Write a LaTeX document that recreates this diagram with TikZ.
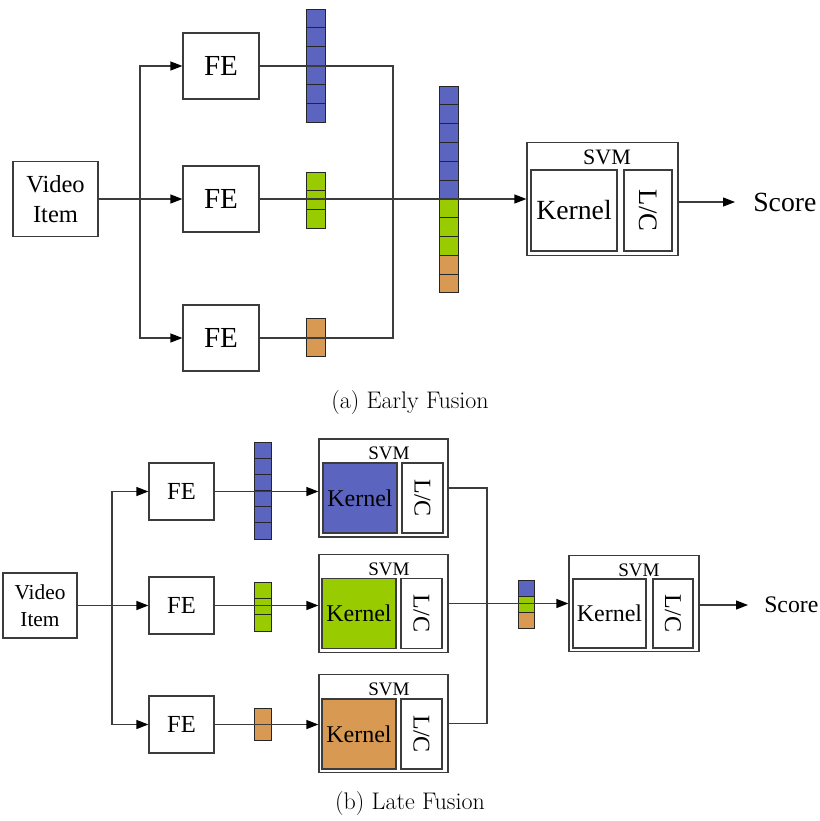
\documentclass[tikz,border=0pt]{standalone}
\usepackage{fontspec}
\newfontfamily\tnr{Liberation Serif}
\usetikzlibrary{arrows.meta}
\usepackage{xcolor}
\definecolor{featblue}{RGB}{91,100,191}
\definecolor{featgreen}{RGB}{153,204,0}
\definecolor{featorange}{RGB}{216,154,82}
\definecolor{linegray}{RGB}{60,60,60}

\begin{document}
\begin{tikzpicture}
[
    x=0.75pt,y=-0.75pt,
    line/.style={draw=linegray,line width=0.9pt},
    arr/.style={line,-{Triangle[length=9pt,width=6.75pt,color=black]}},
    mybox/.style={rectangle,line,fill=white,inner sep=0pt,align=center},
    size/.style 2 args={minimum width=#1*0.75pt,minimum height=#2*0.75pt},
    cell/.style={draw=black!85,line width=0.6pt},
    item/.style={mybox,font=\tnr\fontsize{18.4}{23}\selectfont},
    fe/.style={mybox,size={76}{66},font=\tnr\fontsize{21.8}{24}\selectfont},
    svm/.style={mybox,size={151}{113}},
    svmlabel/.style={inner sep=0pt,font=\tnr\fontsize{16.5}{18}\selectfont},
    kernel/.style={mybox,size={86}{81},font=\tnr\fontsize{20.8}{24}\selectfont},
    lc/.style={mybox,rotate=-90,size={81}{48},font=\tnr\fontsize{20}{24}\selectfont},
    score/.style={inner sep=0pt,anchor=west,font=\tnr\fontsize{20.8}{24}\selectfont},
    itemsmall/.style={mybox,size={74}{65},font=\tnr\fontsize{16}{20}\selectfont},
    fesmall/.style={mybox,size={65}{57},font=\tnr\fontsize{18.4}{22}\selectfont},
    svmsmall/.style={mybox,size={129}{98}},
    svmlabelsmall/.style={inner sep=0pt,font=\tnr\fontsize{14.3}{16}\selectfont},
    kernelsmall/.style={mybox,size={74}{70},font=\tnr\fontsize{18}{22}\selectfont},
    lcsmall/.style={mybox,rotate=-90,size={70}{41},font=\tnr\fontsize{18}{22}\selectfont},
    scoresmall/.style={inner sep=0pt,anchor=west,font=\tnr\fontsize{17.8}{22}\selectfont},
    caption/.style={inner sep=0pt,font=\fontsize{18}{22}\selectfont}
]
\useasboundingbox (0,0) rectangle (820,821);

% (a) early fusion
\node at (55.5,199) [item,size={85}{75}] (vidA) {Video\\Item};
\node at (221,66) [fe] (feA1) {FE};
\node at (221,199) [fe] (feA2) {FE};
\node at (221,338) [fe] (feA3) {FE};

\foreach \i in {0,...,5} \draw[cell,fill=featblue] (306,9+\i*18.83) rectangle ++(19,18.83);
\foreach \i in {0,...,2} \draw[cell,fill=featgreen] (306,172+\i*18.67) rectangle ++(19,18.67);
\foreach \i in {0,...,1} \draw[cell,fill=featorange] (306,318+\i*19) rectangle ++(19,19);

\foreach \i/\c in {0/featblue,1/featblue,2/featblue,3/featblue,4/featblue,5/featblue,
                   6/featgreen,7/featgreen,8/featgreen,9/featorange,10/featorange}
    \draw[cell,fill=\c] (439,86+\i*18.8) rectangle ++(19,18.8);

\node at (602.5,199) [svm] (svmA) {};
\node at (607,157) [svmlabel] (svmAt) {SVM};
\node at (574,210.5) [kernel] (kernelA) {Kernel};
\node at (648,210.5) [lc] (lcA) {L/C};
\node at (753,202) [score] (scoreA) {Score};

\coordinate (brA) at (140,199);
\coordinate (mgA) at (393,199);
\draw[arr] (vidA.east) -- (feA2.west);
\draw[arr] (brA) |- (feA1.west);
\draw[arr] (brA) |- (feA3.west);
\draw[line] (feA1.east) -| (mgA);
\draw[line] (feA3.east) -| (mgA);
\draw[line] (feA2.east) -- (mgA);
\draw[arr] (mgA) -- (svmA.west);
\draw[arr,shorten >=13.5pt] (svmA.east |- scoreA.west) -- (scoreA.west);

\node at (410,403) [caption] (capA) {(a) Early Fusion};

% (b) late fusion
\node at (40,605.5) [itemsmall] (vidB) {Video\\Item};
\node at (181.5,491.5) [fesmall] (feB1) {FE};
\node at (181.5,605.5) [fesmall] (feB2) {FE};
\node at (181.5,724.5) [fesmall] (feB3) {FE};

\foreach \i in {0,...,5} \draw[cell,fill=featblue] (254,442+\i*16.17) rectangle ++(17,16.17);
\foreach \i in {0,...,2} \draw[cell,fill=featgreen] (254,582+\i*16.33) rectangle ++(17,16.33);
\foreach \i in {0,...,1} \draw[cell,fill=featorange] (254,708+\i*16) rectangle ++(17,16);

\node at (383.5,488) [svmsmall] (svmB1) {};
\node at (389,453) [svmlabelsmall] (svmB1t) {SVM};
\node at (360,498) [kernelsmall,fill=featblue] (kernelB1) {Kernel};
\node at (422.5,498) [lcsmall] (lcB1) {L/C};

\node at (383.5,603.5) [svmsmall] (svmB2) {};
\node at (389,569) [svmlabelsmall] (svmB2t) {SVM};
\node at (359,613.5) [kernelsmall,fill=featgreen] (kernelB2) {Kernel};
\node at (421.5,613.5) [lcsmall] (lcB2) {L/C};

\node at (383.5,723.5) [svmsmall] (svmB3) {};
\node at (389,689) [svmlabelsmall] (svmB3t) {SVM};
\node at (359,734) [kernelsmall,fill=featorange] (kernelB3) {Kernel};
\node at (421.5,734) [lcsmall] (lcB3) {L/C};

\foreach \i/\c in {0/featblue,1/featgreen,2/featorange}
    \draw[cell,fill=\c] (518,580+\i*16) rectangle ++(16,16);

\node at (634,603.5) [svmsmall,size={130}{96}] (svmC) {};
\node at (639,570) [svmlabelsmall] (svmCt) {SVM};
\node at (609.5,613.5) [kernelsmall,size={73}{69}] (kernelC) {Kernel};
\node at (673,613.5) [lcsmall,size={69}{40}] (lcC) {L/C};
\node at (764,605) [scoresmall] (scoreB) {Score};

\coordinate (brB) at (112,605.5);
\coordinate (mgB) at (487,603.5);
\draw[arr] (vidB.east) -- (feB2.west);
\draw[arr] (brB) |- (feB1.west);
\draw[arr] (brB) |- (feB3.west);
\draw[arr] (feB1) -- (feB1 -| svmB1.west);
\draw[arr] (feB2) -- (feB2 -| svmB2.west);
\draw[arr] (feB3) -- (feB3 -| svmB3.west);
\draw[line] (svmB1.east) -| (mgB);
\draw[line] (svmB3.east) -| (mgB);
\draw[line] (svmB2.east) -- (mgB);
\draw[arr] (mgB) -- (svmC.west);
\draw[arr,shorten >=12pt] (svmC.east |- scoreB.west) -- (scoreB.west);

\node at (410,803.5) [caption] (capB) {(b) Late Fusion};

\end{tikzpicture}
\end{document}
